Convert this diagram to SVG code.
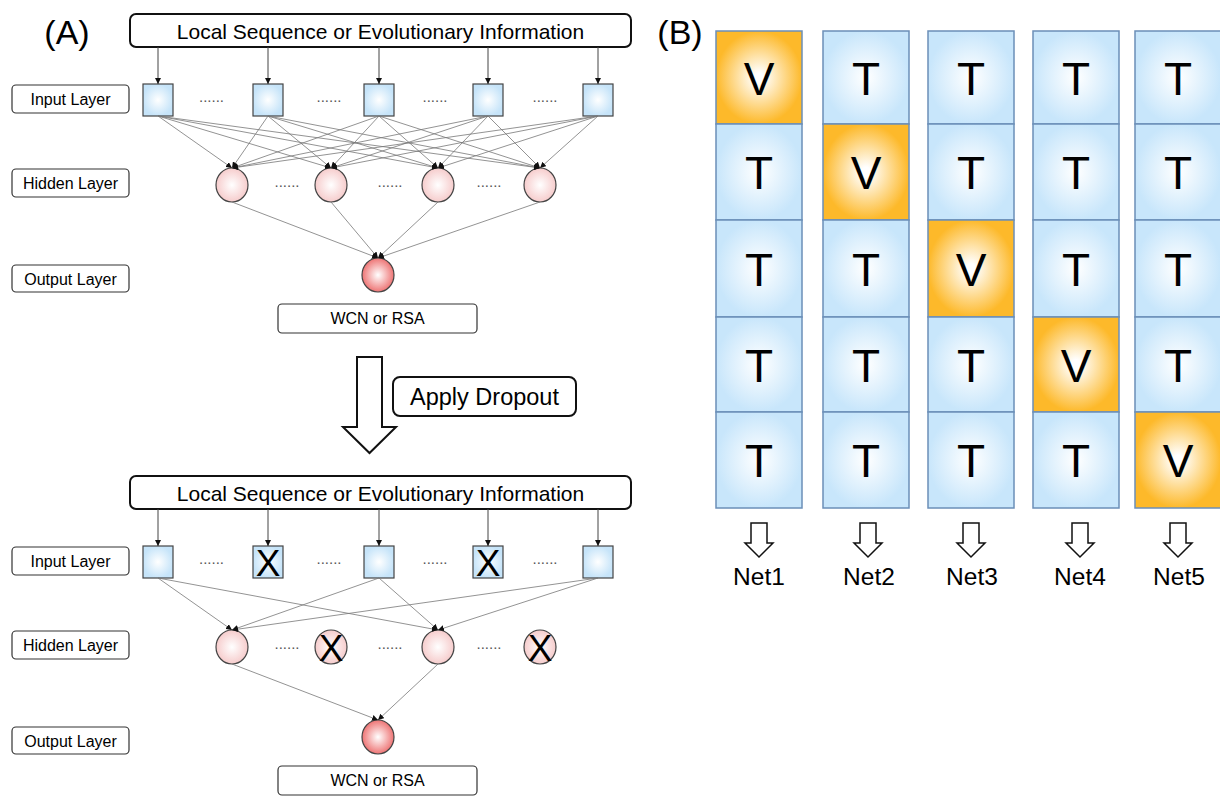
<svg xmlns="http://www.w3.org/2000/svg" width="1220" height="797" viewBox="0 0 1220 797">
<defs>
<style>
text{font-family:"Liberation Sans",Arial,sans-serif;fill:#000}
.lbl{fill:#fff;stroke:#333;stroke-width:1.2}
.lt{font-size:16px;text-anchor:middle}
.big{fill:#fff;stroke:#111;stroke-width:2}
.sq{fill:url(#gSq);stroke:#444;stroke-width:1.2}
.hid{fill:url(#gHid);stroke:#444;stroke-width:1.2}
.out{fill:url(#gOut);stroke:#444;stroke-width:1.2}
.dots{font-size:15px;text-anchor:middle;fill:#555}
.cb{fill:url(#gCB);stroke:#6b8fb8;stroke-width:1.5}
.co{fill:url(#gCO);stroke:#6b8fb8;stroke-width:1.5}
.cl{font-size:46px;text-anchor:middle}
.x{font-size:37px;text-anchor:middle}
.c line{stroke:#777;stroke-width:0.8}
.c line.a{stroke:#444;stroke-width:1}
.arr{fill:#fff;stroke:#111;stroke-width:1.5}
.hd{font-size:34px;text-anchor:middle}
.info{font-size:21px;text-anchor:middle}
</style>
<radialGradient id="gSq"><stop offset="0" stop-color="#ffffff"/><stop offset="1" stop-color="#c6e4f9"/></radialGradient>
<radialGradient id="gHid"><stop offset="0" stop-color="#ffffff"/><stop offset="1" stop-color="#f6cccc"/></radialGradient>
<radialGradient id="gOut"><stop offset="0" stop-color="#ffffff"/><stop offset="1" stop-color="#ee7474"/></radialGradient>
<radialGradient id="gCB"><stop offset="0" stop-color="#ffffff"/><stop offset="1" stop-color="#c8e6fb"/></radialGradient>
<radialGradient id="gCO"><stop offset="0" stop-color="#ffffff"/><stop offset="0.1" stop-color="#ffffff"/><stop offset="1" stop-color="#fdb92a"/></radialGradient>
<marker id="ah" viewBox="0 0 10 10" refX="10" refY="5" markerWidth="6" markerHeight="6" markerUnits="userSpaceOnUse" orient="auto"><path d="M0,0 L10,5 L0,10 z" fill="#111"/></marker>
</defs>
<rect width="1220" height="797" fill="#fff"/>

<!-- Panel A top -->
<text class="hd" x="67" y="44">(A)</text>
<g id="info1"><rect class="big" x="130" y="14" width="501" height="33" rx="6"/><text class="info" x="380.5" y="38.5">Local Sequence or Evolutionary Information</text></g>
<g id="lblIn1"><rect class="lbl" x="12" y="85" width="117" height="28" rx="4"/><text class="lt" x="70.5" y="105">Input Layer</text></g>
<g id="lblHid1"><rect class="lbl" x="12" y="169" width="117" height="28" rx="4"/><text class="lt" x="70.5" y="189">Hidden Layer</text></g>
<g id="lblOut1"><rect class="lbl" x="12" y="265" width="117" height="27" rx="4"/><text class="lt" x="70.5" y="284.5">Output Layer</text></g>

<g id="in1"><rect class="sq" x="143" y="84" width="30" height="32"/><rect class="sq" x="253" y="84" width="30" height="32"/><rect class="sq" x="364" y="84" width="30" height="32"/><rect class="sq" x="473" y="84" width="30" height="32"/><rect class="sq" x="583" y="84" width="30" height="32"/>
<text class="dots" x="211.5" y="102">......</text><text class="dots" x="329" y="102">......</text><text class="dots" x="435" y="102">......</text><text class="dots" x="545" y="102">......</text></g>
<g id="hid1"><ellipse class="hid" cx="232" cy="185" rx="16" ry="17"/><ellipse class="hid" cx="331" cy="185" rx="16" ry="17"/><ellipse class="hid" cx="438" cy="185" rx="16" ry="17"/><ellipse class="hid" cx="540" cy="185" rx="16" ry="17"/>
<text class="dots" x="287" y="187">......</text><text class="dots" x="390" y="187">......</text><text class="dots" x="489" y="187">......</text></g>
<g id="out1"><ellipse class="out" cx="378" cy="275" rx="16" ry="17"/></g>
<g id="res1"><rect class="lbl" x="278" y="304" width="199" height="29" rx="4"/><text x="377.5" y="324" font-size="16" text-anchor="middle">WCN or RSA</text></g>

<g class="c" id="conn1">
<line class="a" x1="158" y1="47" x2="158" y2="84" marker-end="url(#ah)"/><line class="a" x1="268" y1="47" x2="268" y2="84" marker-end="url(#ah)"/><line class="a" x1="379" y1="47" x2="379" y2="84" marker-end="url(#ah)"/><line class="a" x1="488" y1="47" x2="488" y2="84" marker-end="url(#ah)"/><line class="a" x1="598" y1="47" x2="598" y2="84" marker-end="url(#ah)"/>
<line x1="158" y1="116" x2="232" y2="168" marker-end="url(#ah)"/><line x1="158" y1="116" x2="331" y2="168" marker-end="url(#ah)"/><line x1="158" y1="116" x2="438" y2="168" marker-end="url(#ah)"/><line x1="158" y1="116" x2="540" y2="168" marker-end="url(#ah)"/>
<line x1="268" y1="116" x2="232" y2="168" marker-end="url(#ah)"/><line x1="268" y1="116" x2="331" y2="168" marker-end="url(#ah)"/><line x1="268" y1="116" x2="438" y2="168" marker-end="url(#ah)"/><line x1="268" y1="116" x2="540" y2="168" marker-end="url(#ah)"/>
<line x1="379" y1="116" x2="232" y2="168" marker-end="url(#ah)"/><line x1="379" y1="116" x2="331" y2="168" marker-end="url(#ah)"/><line x1="379" y1="116" x2="438" y2="168" marker-end="url(#ah)"/><line x1="379" y1="116" x2="540" y2="168" marker-end="url(#ah)"/>
<line x1="488" y1="116" x2="232" y2="168" marker-end="url(#ah)"/><line x1="488" y1="116" x2="331" y2="168" marker-end="url(#ah)"/><line x1="488" y1="116" x2="438" y2="168" marker-end="url(#ah)"/><line x1="488" y1="116" x2="540" y2="168" marker-end="url(#ah)"/>
<line x1="598" y1="116" x2="232" y2="168" marker-end="url(#ah)"/><line x1="598" y1="116" x2="331" y2="168" marker-end="url(#ah)"/><line x1="598" y1="116" x2="438" y2="168" marker-end="url(#ah)"/><line x1="598" y1="116" x2="540" y2="168" marker-end="url(#ah)"/>
<line x1="232" y1="202" x2="378" y2="258" marker-end="url(#ah)"/><line x1="331" y1="202" x2="378" y2="258" marker-end="url(#ah)"/><line x1="438" y1="202" x2="378" y2="258" marker-end="url(#ah)"/><line x1="540" y1="202" x2="378" y2="258" marker-end="url(#ah)"/>
</g>

<!-- Dropout arrow -->
<g id="dropArrow"><path class="big" d="M357,357 H382 V427 H396 L369.5,453 L343,427 H357 Z"/></g>
<g id="dropLabel"><rect class="big" x="393" y="377" width="183" height="39" rx="7" stroke-width="1.5"/><text x="484.5" y="405" font-size="23.5" text-anchor="middle">Apply Dropout</text></g>

<!-- Panel A bottom -->
<g id="info2"><rect class="big" x="130" y="476" width="501" height="33" rx="6"/><text class="info" x="380.5" y="500.5">Local Sequence or Evolutionary Information</text></g>
<g id="lblIn2"><rect class="lbl" x="12" y="547" width="117" height="28" rx="4"/><text class="lt" x="70.5" y="567">Input Layer</text></g>
<g id="lblHid2"><rect class="lbl" x="12" y="631" width="117" height="28" rx="4"/><text class="lt" x="70.5" y="651">Hidden Layer</text></g>
<g id="lblOut2"><rect class="lbl" x="12" y="727" width="117" height="27" rx="4"/><text class="lt" x="70.5" y="746.5">Output Layer</text></g>

<g id="in2"><rect class="sq" x="143" y="546" width="30" height="32"/><rect class="sq" x="253" y="546" width="30" height="32"/><rect class="sq" x="364" y="546" width="30" height="32"/><rect class="sq" x="473" y="546" width="30" height="32"/><rect class="sq" x="583" y="546" width="30" height="32"/>
<text class="x" x="268" y="576">X</text><text class="x" x="488" y="576">X</text>
<text class="dots" x="211.5" y="564">......</text><text class="dots" x="329" y="564">......</text><text class="dots" x="435" y="564">......</text><text class="dots" x="545" y="564">......</text></g>
<g id="hid2"><ellipse class="hid" cx="232" cy="647" rx="16" ry="17"/><ellipse class="hid" cx="331" cy="647" rx="16" ry="17"/><ellipse class="hid" cx="438" cy="647" rx="16" ry="17"/><ellipse class="hid" cx="540" cy="647" rx="16" ry="17"/>
<text class="x" x="331" y="660.5" font-size="39">X</text><text class="x" x="540" y="660.5" font-size="39">X</text>
<text class="dots" x="287" y="649">......</text><text class="dots" x="390" y="649">......</text><text class="dots" x="489" y="649">......</text></g>
<g id="out2"><ellipse class="out" cx="378" cy="737" rx="16" ry="17"/></g>
<g id="res2"><rect class="lbl" x="278" y="766" width="199" height="29" rx="4"/><text x="377.5" y="786" font-size="16" text-anchor="middle">WCN or RSA</text></g>

<g class="c" id="conn2">
<line class="a" x1="158" y1="509" x2="158" y2="546" marker-end="url(#ah)"/><line class="a" x1="268" y1="509" x2="268" y2="546" marker-end="url(#ah)"/><line class="a" x1="379" y1="509" x2="379" y2="546" marker-end="url(#ah)"/><line class="a" x1="488" y1="509" x2="488" y2="546" marker-end="url(#ah)"/><line class="a" x1="598" y1="509" x2="598" y2="546" marker-end="url(#ah)"/>
<line x1="158" y1="578" x2="232" y2="630" marker-end="url(#ah)"/><line x1="158" y1="578" x2="438" y2="630" marker-end="url(#ah)"/>
<line x1="379" y1="578" x2="232" y2="630" marker-end="url(#ah)"/><line x1="379" y1="578" x2="438" y2="630" marker-end="url(#ah)"/>
<line x1="598" y1="578" x2="232" y2="630" marker-end="url(#ah)"/><line x1="598" y1="578" x2="438" y2="630" marker-end="url(#ah)"/>
<line x1="232" y1="664" x2="378" y2="720" marker-end="url(#ah)"/><line x1="438" y1="664" x2="378" y2="720" marker-end="url(#ah)"/>
</g>

<!-- Panel B -->
<text class="hd" x="680" y="44">(B)</text>
<g id="col1">
<rect class="co" x="716" y="31" width="86" height="93"/><text class="cl" x="759" y="94.5">V</text>
<rect class="cb" x="716" y="124" width="86" height="96"/><text class="cl" x="759" y="189">T</text>
<rect class="cb" x="716" y="220" width="86" height="97"/><text class="cl" x="759" y="285.5">T</text>
<rect class="cb" x="716" y="317" width="86" height="95"/><text class="cl" x="759" y="381.5">T</text>
<rect class="cb" x="716" y="412" width="86" height="96"/><text class="cl" x="759" y="477">T</text>
</g>
<g id="col2">
<rect class="cb" x="823" y="31" width="86" height="93"/><text class="cl" x="866" y="94.5">T</text>
<rect class="co" x="823" y="124" width="86" height="96"/><text class="cl" x="866" y="189">V</text>
<rect class="cb" x="823" y="220" width="86" height="97"/><text class="cl" x="866" y="285.5">T</text>
<rect class="cb" x="823" y="317" width="86" height="95"/><text class="cl" x="866" y="381.5">T</text>
<rect class="cb" x="823" y="412" width="86" height="96"/><text class="cl" x="866" y="477">T</text>
</g>
<g id="col3">
<rect class="cb" x="928" y="31" width="86" height="93"/><text class="cl" x="971" y="94.5">T</text>
<rect class="cb" x="928" y="124" width="86" height="96"/><text class="cl" x="971" y="189">T</text>
<rect class="co" x="928" y="220" width="86" height="97"/><text class="cl" x="971" y="285.5">V</text>
<rect class="cb" x="928" y="317" width="86" height="95"/><text class="cl" x="971" y="381.5">T</text>
<rect class="cb" x="928" y="412" width="86" height="96"/><text class="cl" x="971" y="477">T</text>
</g>
<g id="col4">
<rect class="cb" x="1033" y="31" width="86" height="93"/><text class="cl" x="1076" y="94.5">T</text>
<rect class="cb" x="1033" y="124" width="86" height="96"/><text class="cl" x="1076" y="189">T</text>
<rect class="cb" x="1033" y="220" width="86" height="97"/><text class="cl" x="1076" y="285.5">T</text>
<rect class="co" x="1033" y="317" width="86" height="95"/><text class="cl" x="1076" y="381.5">V</text>
<rect class="cb" x="1033" y="412" width="86" height="96"/><text class="cl" x="1076" y="477">T</text>
</g>
<g id="col5">
<rect class="cb" x="1135" y="31" width="86" height="93"/><text class="cl" x="1178" y="94.5">T</text>
<rect class="cb" x="1135" y="124" width="86" height="96"/><text class="cl" x="1178" y="189">T</text>
<rect class="cb" x="1135" y="220" width="86" height="97"/><text class="cl" x="1178" y="285.5">T</text>
<rect class="cb" x="1135" y="317" width="86" height="95"/><text class="cl" x="1178" y="381.5">T</text>
<rect class="co" x="1135" y="412" width="86" height="96"/><text class="cl" x="1178" y="477">V</text>
</g>
<g id="nets">
<path class="arr" d="M751,523 H767 V543 H773 L759,557 L745,543 H751 Z"/><text x="759" y="585" font-size="24.5" text-anchor="middle">Net1</text>
<path class="arr" d="M860,523 H876 V543 H882 L868,557 L854,543 H860 Z"/><text x="869" y="585" font-size="24.5" text-anchor="middle">Net2</text>
<path class="arr" d="M963,523 H979 V543 H985 L971,557 L957,543 H963 Z"/><text x="972" y="585" font-size="24.5" text-anchor="middle">Net3</text>
<path class="arr" d="M1072,523 H1088 V543 H1094 L1080,557 L1066,543 H1072 Z"/><text x="1080" y="585" font-size="24.5" text-anchor="middle">Net4</text>
<path class="arr" d="M1170,523 H1186 V543 H1192 L1178,557 L1164,543 H1170 Z"/><text x="1179" y="585" font-size="24.5" text-anchor="middle">Net5</text>
</g>
</svg>
